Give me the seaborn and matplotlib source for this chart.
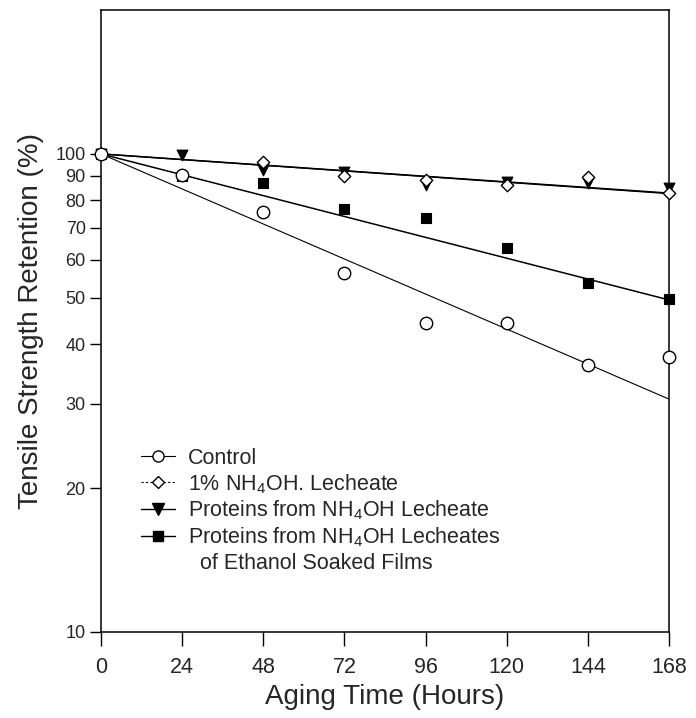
import matplotlib
matplotlib.use("Agg")
import matplotlib.pyplot as plt
from matplotlib.lines import Line2D
import seaborn as sns
import pandas as pd
import numpy as np

# ---- data ----
hours = [0, 24, 48, 72, 96, 120, 144, 168]
control = [100, 90.4, 75.6, 56.4, 44.3, 44.3, 36.2, 37.6]
nh4oh_leach = [100, np.nan, 96.2, 90.0, 88.2, 86.1, 89.5, 82.8]
proteins = [100, 99.5, 92.5, 91.6, 86.1, 87.4, 87.0, 84.9]
proteins_eth = [100, 90.0, 86.9, 76.7, 73.5, 63.6, 53.7, 49.7]

fit_hours = [0, 168]
fit_control = [100, 30.7]
fit_nh4oh = [100, 82.6]
fit_proteins = [100, 82.8]
fit_proteins_eth = [100, 49.5]

xticks = [0, 24, 48, 72, 96, 120, 144, 168]
yticks = [10, 20, 30, 40, 50, 60, 70, 80, 90, 100]

labels = ["Control",
          "1% NH$_4$OH. Lecheate",
          "Proteins from NH$_4$OH Lecheate",
          "Proteins from NH$_4$OH Lecheates",
          "  of Ethanol Soaked Films"]

# ---- style ----
sns.set_theme(style="white")
plt.rcParams["font.family"] = ["Liberation Sans", "DejaVu Sans"]
plt.rcParams["mathtext.default"] = "regular"

fig = plt.figure(figsize=(6.96, 7.18), dpi=100)
ax = fig.add_axes([101/696, 1 - 632/718, (669-101)/696, (632-10)/718])

# fit lines
fits = pd.DataFrame({
    "h": fit_hours * 4,
    "v": fit_control + fit_nh4oh + fit_proteins + fit_proteins_eth,
    "s": ["c"]*2 + ["n"]*2 + ["p"]*2 + ["e"]*2,
})
sns.lineplot(data=fits[fits.s == "c"], x="h", y="v", color="black", lw=0.8, ax=ax)
sns.lineplot(data=fits[fits.s == "p"], x="h", y="v", color="black", lw=1.1, ax=ax)
sns.lineplot(data=fits[fits.s == "n"], x="h", y="v", color="black", lw=1.0, ax=ax)
sns.lineplot(data=fits[fits.s == "e"], x="h", y="v", color="black", lw=1.1, ax=ax)

# points
sns.scatterplot(x=hours, y=proteins_eth, marker="s", s=45, color="black",
                edgecolor="black", linewidth=0.8, ax=ax, zorder=3, clip_on=False)
sns.scatterplot(x=hours, y=proteins, marker="v", s=60, color="black",
                edgecolor="black", linewidth=0.8, ax=ax, zorder=4, clip_on=False)
sns.scatterplot(x=hours, y=nh4oh_leach, marker="D", s=40, color="white",
                edgecolor="black", linewidth=1.0, ax=ax, zorder=5, clip_on=False)
sns.scatterplot(x=hours, y=control, marker="o", s=80, color="white",
                edgecolor="black", linewidth=1.0, ax=ax, zorder=6, clip_on=False)

ax.set_yscale("log")
ax.set_xlim(0, 168)
ax.set_ylim(10, 200)
ax.set_xticks(xticks)
ax.set_xticklabels([str(t) for t in xticks], fontsize=15.5)
ax.set_yticks(yticks)
ax.set_yticklabels([str(t) for t in yticks], fontsize=13)
ax.yaxis.set_minor_locator(matplotlib.ticker.NullLocator())
ax.tick_params(axis="both", direction="out", color="black", width=1.0,
               left=True, bottom=True)
ax.tick_params(axis="x", length=10, pad=8)
ax.tick_params(axis="y", length=8, pad=3)
for sp in ax.spines.values():
    sp.set_color("black")
    sp.set_linewidth(1.1)

ax.set_xlabel("Aging Time (Hours)", fontsize=20, labelpad=4)
ax.set_ylabel("Tensile Strength Retention (%)", fontsize=20, labelpad=8)

# legend
handles = [
    Line2D([], [], color="black", lw=0.8, marker="o", mfc="white", mec="black", ms=8),
    Line2D([], [], color="black", lw=0.8, ls=(0, (2, 2)), marker="D", mfc="white", mec="black", ms=6),
    Line2D([], [], color="black", lw=1.0, marker="v", mfc="black", mec="black", ms=8),
    Line2D([], [], color="black", lw=1.0, marker="s", mfc="black", mec="black", ms=7),
    Line2D([], [], color="none", lw=0),
]
leg = ax.legend(handles, labels, loc="upper left", bbox_to_anchor=(0.055, 0.31),
                frameon=False, fontsize=15.5, handlelength=1.6, handletextpad=0.6,
                labelspacing=0.15, borderaxespad=0)

fig.savefig("out.png", dpi=100)
